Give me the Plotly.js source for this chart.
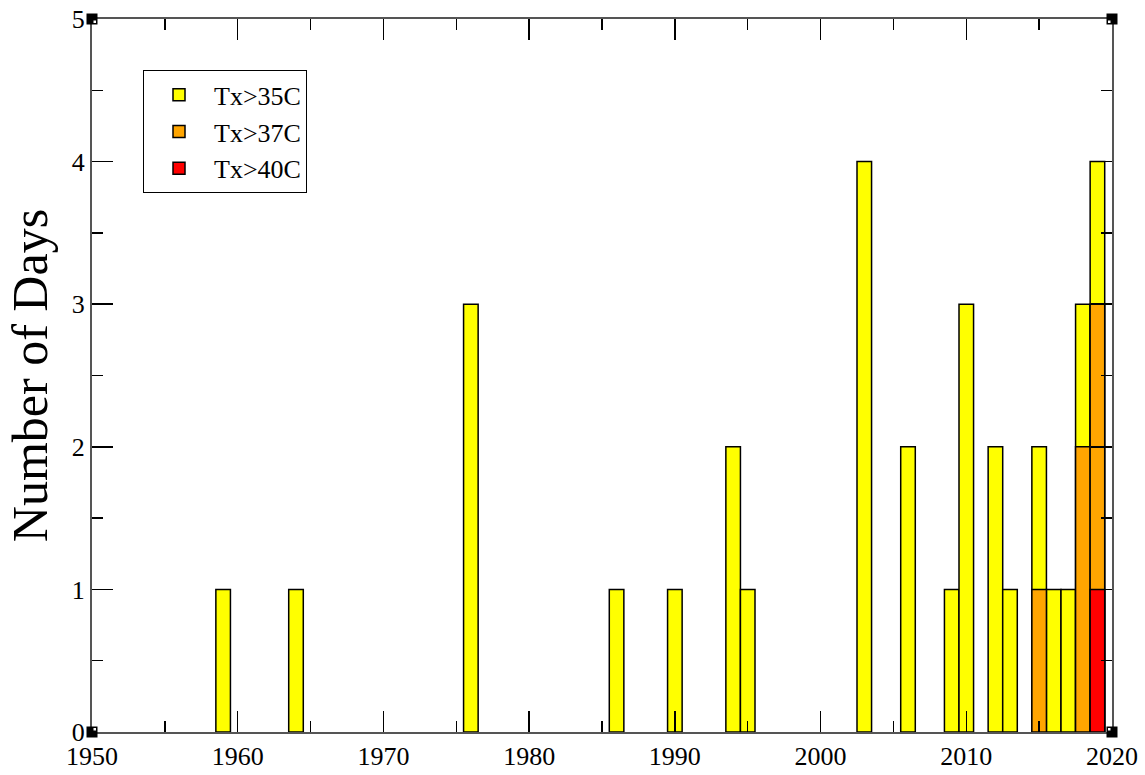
<!DOCTYPE html>
<html>
<head>
<meta charset="utf-8">
<script src="https://cdn.plot.ly/plotly-3.0.1.min.js"></script>
<style>html,body{margin:0;padding:0;background:#fff;}#chart{width:1145px;height:775px;}</style>
</head>
<body>
<div id="chart"></div>
<script>
var years35 = [1959,1964,1976,1986,1990,1994,1995,2003,2006,2009,2010,2012,2013,2015,2016,2017,2018,2019];
var tx35    = [1,1,3,1,1,2,1,4,2,1,3,2,1,2,1,1,3,4];
var years37 = [2015,2018,2019];
var tx37    = [1,2,3];
var years40 = [2019];
var tx40    = [1];
var seriesNames = ["Tx>35C","Tx>37C","Tx>40C"];

var font = "Liberation Serif, Times New Roman, serif";
function barTrace(x, y, name, color) {
  return {type:"bar", x:x, y:y, name:name, width:1,
    marker:{color:color, line:{color:"#000", width:1.5}}};
}
var data = [
  barTrace(years35, tx35, seriesNames[0], "#FFFF00"),
  barTrace(years37, tx37, seriesNames[1], "#FFA500"),
  barTrace(years40, tx40, seriesNames[2], "#FF0000")
];

function corner(xa, ya) {
  var sx = xa === 0 ? 1 : -1, sy = ya === 0 ? 1 : -1;
  return [
    {type:"rect", xref:"paper", yref:"paper", xsizemode:"pixel", ysizemode:"pixel",
      xanchor:xa, yanchor:ya, x0:-5.5, x1:5.5, y0:-5.5, y1:5.5,
      fillcolor:"#000", line:{width:0}, layer:"above"},
    {type:"rect", xref:"paper", yref:"paper", xsizemode:"pixel", ysizemode:"pixel",
      xanchor:xa, yanchor:ya, x0:sx*1.5, x1:sx*4, y0:sy*1.5, y1:sy*4,
      fillcolor:"#fff", line:{width:0}, layer:"above"}
  ];
}

var layout = {
  width:1145, height:775,
  margin:{l:92, r:33, t:19, b:43},
  paper_bgcolor:"#fff", plot_bgcolor:"#fff",
  barmode:"overlay",
  font:{family:font, color:"#000", size:26},
  xaxis:{range:[1950,2020], dtick:10, tick0:1950, ticks:"inside", ticklen:21, tickwidth:1.5, tickcolor:"#000",
    minor:{dtick:5, ticks:"inside", ticklen:11, tickwidth:1.5, tickcolor:"#000"},
    showline:true, linecolor:"#555", linewidth:2, mirror:"ticks", showgrid:false, zeroline:false,
    tickfont:{family:font, size:26, color:"#000"}},
  yaxis:{range:[0,5], dtick:1, ticks:"inside", ticklen:21, tickwidth:1.5, tickcolor:"#000",
    minor:{dtick:0.5, ticks:"inside", ticklen:11, tickwidth:1.5, tickcolor:"#000"},
    showline:true, linecolor:"#555", linewidth:2, mirror:"ticks", showgrid:false, zeroline:false,
    tickfont:{family:font, size:26, color:"#000"},
    title:{text:"Number of Days", font:{family:font, size:50, color:"#000"}, standoff:8}},
  showlegend:true,
  legend:{x:0.05, y:0.928, xanchor:"left", yanchor:"top", bgcolor:"#fff", itemwidth:60,
    bordercolor:"#000", borderwidth:1, font:{family:font, size:26, color:"#000"}, traceorder:"normal"},
  shapes:[].concat(corner(0,0), corner(1,0), corner(0,1), corner(1,1))
};

Plotly.newPlot("chart", data, layout, {displayModeBar:false, staticPlot:true});
</script>
</body>
</html>
